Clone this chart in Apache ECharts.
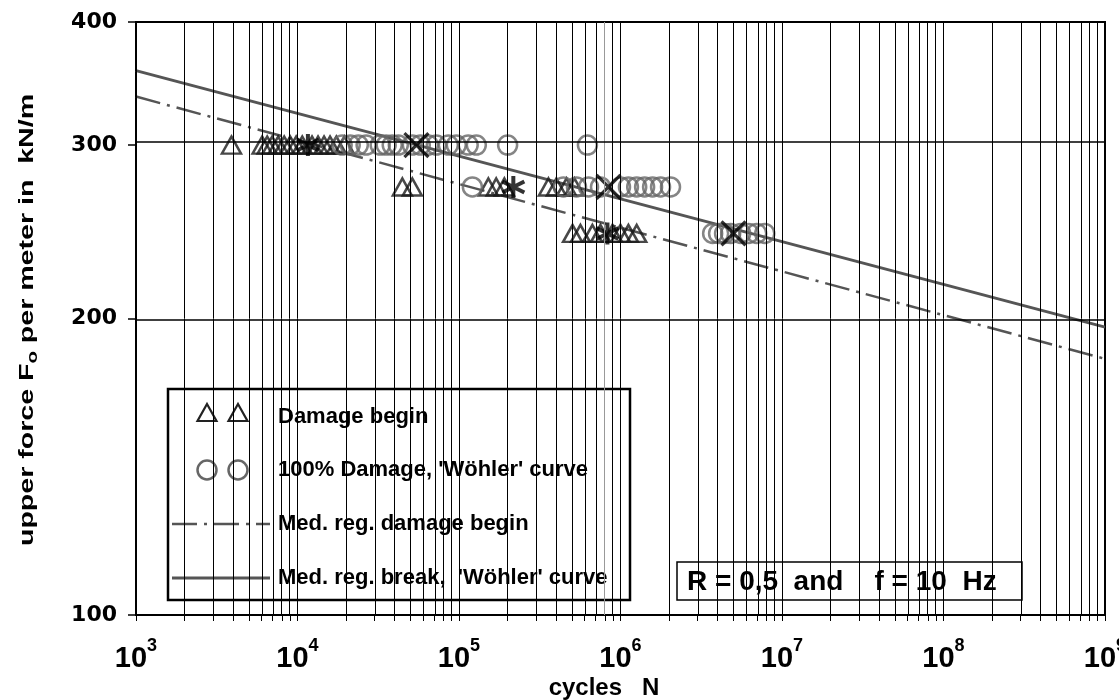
<!DOCTYPE html>
<html>
<head>
<meta charset="utf-8">
<script src="https://cdn.jsdelivr.net/npm/echarts@6/dist/echarts.min.js"></script>
<style>
  html, body { margin: 0; padding: 0; background: #fff; }
  #chart { width: 1119px; height: 700px; }
</style>
</head>
<body>
<div id="chart"></div>
<script>
// Axis ranges (cycles N, force F in kN/m)
const xMin = 1e3, xMax = 1e9;
const yMin = 100, yMax = 400;
const yTickValues = [100, 200, 300, 400];
const yGridValues = [200, 300];
const xDecades = [3, 4, 5, 6, 7, 8, 9];

// Force levels of the test series
const levelHigh = 300, levelMid = 272, levelLow = 244;

// Damage begin (cycles at each force level)
const damageN300 = [3900, 6040, 6490, 6970, 7590, 8270, 9010, 9810, 10700, 12300, 13400, 14600, 15900, 17400, 19500];
const damageN272 = [44600, 51400, 152000, 170000, 191000, 358000, 401000, 463000, 519000];
const damageN244 = [505000, 565000, 670000, 752000, 892000, 1000000, 1120000, 1260000];

// 100 % damage (break)
const breakN300 = [18900, 21200, 23800, 26600, 32500, 35400, 38600, 42100, 51400, 57600, 64600, 72400, 85900, 96200, 114000, 128000, 200000, 624000];
const breakN272 = [121000, 443000, 534000, 634000, 752000, 1000000, 1120000, 1260000, 1410000, 1580000, 1770000, 2040000];
const breakN244 = [3720000, 4050000, 4410000, 4810000, 5550000, 6220000, 6970000, 7820000];

// Medians per level
const medianDamageN = [11600, 217000, 830000];
const medianBreakN = [54500, 843000, 5010000];
const medianLevels = [levelHigh, levelMid, levelLow];

// Median regression lines (end points at N = 1e3 and N = 1e9)
const regDamageN = [1e3, 1e9];
const regDamageF = [336, 182];
const regBreakN = [1e3, 1e9];
const regBreakF = [357, 196];

const lg = Math.log10;
const pts = (ns, f) => ns.map(n => [lg(n), lg(f)]);
const pairs = (ns, fs) => ns.map((n, i) => [lg(n), lg(fs[i])]);

// vertical grid lines at 1..9 x 10^k
const xGrid = [];
for (let k = 3; k < 9; k++) for (let m = 1; m <= 9; m++) xGrid.push(lg(m * Math.pow(10, k)));
xGrid.push(9);
const lightLine = lg(8e5);

const FONT = 'Liberation Sans, Arial, sans-serif';
const dashDot = [25, 7, 3, 7];

const chart = echarts.init(document.getElementById('chart'), null, { renderer: 'canvas' });

const option = {
  animation: false,
  backgroundColor: '#fff',
  grid: {
    left: 136, right: 14, top: 22, bottom: 85,
    containLabel: false, outerBoundsMode: 'none',
    show: true, borderColor: '#000', borderWidth: 2, backgroundColor: 'transparent'
  },
  xAxis: {
    type: 'value', min: lg(xMin), max: lg(xMax), interval: 1,
    axisLine: { lineStyle: { color: '#000', width: 2 } },
    axisTick: { show: true, length: 6, customValues: xGrid, lineStyle: { color: '#000', width: 1 } },
    splitLine: { show: false },
    axisLabel: {
      margin: 22,
      customValues: xDecades,
      formatter: v => '{b|10}{s|' + Math.round(v) + '}',
      rich: {
        b: { fontFamily: FONT, fontWeight: 'bold', fontSize: 29, color: '#000', lineHeight: 44 },
        s: { fontFamily: FONT, fontWeight: 'bold', fontSize: 18, color: '#000', lineHeight: 10, verticalAlign: 'top' }
      }
    }
  },
  yAxis: {
    type: 'value', min: lg(yMin), max: lg(yMax),
    axisLine: { show: true, lineStyle: { color: '#000', width: 2 } },
    axisTick: { show: true, length: 8, customValues: yTickValues.map(lg), lineStyle: { color: '#000', width: 1.5 } },
    splitLine: { show: false },
    axisLabel: {
      margin: 19,
      customValues: yTickValues.map(lg),
      formatter: v => String(Math.round(Math.pow(10, v))),
      fontFamily: 'DejaVu Sans', fontWeight: 'bold', fontSize: 22, color: '#000'
    }
  },
  series: [
    {
      name: 'grid', type: 'line', data: [[3, 2]], symbol: 'none', silent: true, z: 1,
      lineStyle: { width: 0 },
      markLine: {
        silent: true, symbol: ['none', 'none'], animation: false,
        label: { show: false },
        lineStyle: { color: '#000', width: 1, type: 'solid' },
        emphasis: { disabled: true },
        data: xGrid.map(v => (v === lightLine ? { xAxis: v, lineStyle: { color: '#999' } } : { xAxis: v }))
          .concat(yGridValues.map(v => ({ yAxis: lg(v), lineStyle: { width: 1.5 } })))
      }
    },
    {
      name: 'Damage begin', type: 'scatter', z: 3,
      symbol: 'triangle', symbolSize: [19, 17],
      itemStyle: { color: 'rgba(0,0,0,0)', borderColor: '#1a1a1a', borderWidth: 2.5 },
      data: pts(damageN300, levelHigh).concat(pts(damageN272, levelMid), pts(damageN244, levelLow))
    },
    {
      name: "100% Damage, 'Wöhler' curve", type: 'scatter', z: 3,
      symbol: 'circle', symbolSize: 19,
      itemStyle: { color: 'rgba(0,0,0,0)', borderColor: '#666', borderWidth: 2.5 },
      data: pts(breakN300, levelHigh).concat(pts(breakN272, levelMid), pts(breakN244, levelLow))
    },
    {
      name: 'Med. reg. damage begin', type: 'line', z: 2, symbol: 'none',
      lineStyle: { color: '#555', width: 2.5, type: dashDot },
      data: pairs(regDamageN, regDamageF)
    },
    {
      name: "Med. reg. break, 'Wöhler' curve", type: 'line', z: 2, symbol: 'none',
      lineStyle: { color: '#555', width: 3 },
      data: pairs(regBreakN, regBreakF)
    },
    {
      name: 'median damage begin', type: 'scatter', z: 4,
      symbol: 'path://M5,0L5,10M0.67,2.5L9.33,7.5M0.67,7.5L9.33,2.5', symbolSize: 22,
      itemStyle: { color: 'rgba(0,0,0,0)', borderColor: '#000', borderWidth: 4 },
      data: pairs(medianDamageN, medianLevels)
    },
    {
      name: 'median break', type: 'scatter', z: 4,
      symbol: 'path://M0,0L10,10M10,0L0,10', symbolSize: 24,
      itemStyle: { color: 'rgba(0,0,0,0)', borderColor: '#000', borderWidth: 3.2 },
      data: pairs(medianBreakN, medianLevels)
    }
  ],
  graphic: [
    // axis titles
    {
      type: 'text', x: 27, y: 320, rotation: Math.PI / 2, scaleX: 1.36, z: 10,
      style: {
        text: '{a|upper force F}{s|o}{a| per meter in  kN/m}',
        align: 'center', verticalAlign: 'middle',
        rich: {
          a: { font: 'bold 21px ' + FONT, fill: '#000', lineHeight: 26 },
          s: { font: 'bold 15px ' + FONT, fill: '#000', lineHeight: 12, verticalAlign: 'bottom' }
        }
      }
    },
    {
      type: 'text', x: 604, y: 688, z: 10,
      style: { text: 'cycles   N', font: 'bold 24px ' + FONT, fill: '#000', align: 'center', verticalAlign: 'middle' }
    },
    // legend box
    {
      type: 'group', z: 20, children: [
        { type: 'rect', shape: { x: 168, y: 389, width: 462, height: 211 }, style: { fill: '#fff', stroke: '#000', lineWidth: 2.5 } },
        { type: 'polygon', shape: { points: [[207, 404], [216.5, 421], [197.5, 421]] }, style: { fill: 'none', stroke: '#222', lineWidth: 2.2 } },
        { type: 'polygon', shape: { points: [[238, 404], [247.5, 421], [228.5, 421]] }, style: { fill: 'none', stroke: '#222', lineWidth: 2.2 } },
        { type: 'circle', shape: { cx: 207, cy: 470, r: 9.5 }, style: { fill: 'none', stroke: '#666', lineWidth: 2.5 } },
        { type: 'circle', shape: { cx: 238, cy: 470, r: 9.5 }, style: { fill: 'none', stroke: '#666', lineWidth: 2.5 } },
        { type: 'line', shape: { x1: 172, y1: 524, x2: 270, y2: 524 }, style: { stroke: '#555', lineWidth: 2.5, lineDash: dashDot } },
        { type: 'line', shape: { x1: 172, y1: 578, x2: 270, y2: 578 }, style: { stroke: '#555', lineWidth: 3 } },
        { type: 'text', x: 278, y: 417, style: { text: 'Damage begin', font: 'bold 22px ' + FONT, fill: '#000', verticalAlign: 'middle' } },
        { type: 'text', x: 278, y: 470, style: { text: "100% Damage, 'Wöhler' curve", font: 'bold 22px ' + FONT, fill: '#000', verticalAlign: 'middle' } },
        { type: 'text', x: 278, y: 524, style: { text: 'Med. reg. damage begin', font: 'bold 22px ' + FONT, fill: '#000', verticalAlign: 'middle' } },
        { type: 'text', x: 278, y: 578, style: { text: "Med. reg. break,  'Wöhler' curve", font: 'bold 22px ' + FONT, fill: '#000', verticalAlign: 'middle' } }
      ]
    },
    // test condition box
    {
      type: 'group', z: 20, children: [
        { type: 'rect', shape: { x: 677, y: 562, width: 345, height: 38 }, style: { fill: '#fff', stroke: '#000', lineWidth: 1.5 } },
        { type: 'text', x: 687, y: 582, style: { text: 'R = 0,5  and    f = 10  Hz', font: 'bold 28px ' + FONT, fill: '#000', verticalAlign: 'middle' } }
      ]
    }
  ]
};

chart.setOption(option);
</script>
</body>
</html>
